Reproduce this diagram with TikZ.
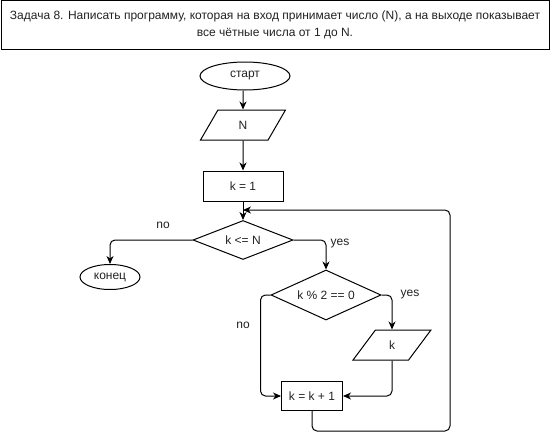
\documentclass[tikz,border=0pt]{standalone}
\usepackage{fontspec}
\setmainfont{Liberation Sans}
\usetikzlibrary{shapes.geometric,arrows.meta}
\definecolor{txt}{HTML}{222222}

\begin{document}
\begin{tikzpicture}[x=1pt,y=-1pt,
  every node/.style={font=\fontsize{12}{14}\selectfont, text=txt},
  conn/.style={line width=1pt, rounded corners=5pt},
  arr/.style={conn, -{Stealth[length=8pt,width=7pt,inset=2.5pt]}},
  term/.style={draw, ellipse, line width=1pt, inner sep=0pt},
  proc/.style={draw, rectangle, line width=1pt, inner sep=0pt},
  io/.style={draw, trapezium, trapezium left angle=70, trapezium right angle=110,
    trapezium stretches=true, line width=1pt, inner sep=0pt},
  decide/.style={draw, diamond, aspect=2.5, line width=1pt, inner sep=0pt}]
\useasboundingbox (0,0) rectangle (551,439);

\node[draw, line width=1pt, minimum width=548pt, minimum height=49pt, align=center,
  font=\fontsize{12}{17.5}\selectfont] (task) at (275,25)
  {Задача 8. Написать программу, которая на вход принимает число (N), а на выходе показывает\\
   все чётные числа от 1 до N.};

\node[term, minimum width=90pt, minimum height=28pt] (start) at (245,76) {старт};
\node[io, minimum width=85pt, minimum height=30pt] (inN) at (243,125) {N};
\node[proc, minimum width=80pt, minimum height=30pt] (init) at (243,186) {k = 1};
\node[decide, minimum width=100pt, minimum height=39pt] (test) at (243,240) {k <= N};
\node[term, minimum width=60pt, minimum height=25pt] (stop) at (110,277) {конец};
\node[decide, minimum width=110pt, minimum height=50pt] (even) at (326,295) {k \% 2 == 0};
\node[io, minimum width=78pt, minimum height=30pt, trapezium left angle=65,
  trapezium right angle=115] (outk) at (392,345) {k};
\node[proc, minimum width=61pt, minimum height=29pt] (inc) at (312,396) {k = k + 1};

\node (noA) at (163,225) {no};
\node (yesA) at (340,244) {yes};
\node (yesB) at (410,295) {yes};
\node (noB) at (243,325) {no};

\coordinate (back) at (450,431);
\coordinate (join) at (243,210);

\draw[arr] (inN |- start.south) -- (inN.north);
\draw[arr] (inN.south) -- (init.north);
\draw[arr] (init) -- (test);
\draw[arr] (test.west) -| (stop.north);
\draw[arr] (test.east) -| (even.north);
\draw[arr] (even.east) -| (outk.north);
\draw[arr] (even.west) -- ++(-10,0) |- (inc.west);
\draw[arr] (outk.south) |- (inc.east);
\draw[arr] (inc.south) |- (back) |- (join);
\end{tikzpicture}
\end{document}
